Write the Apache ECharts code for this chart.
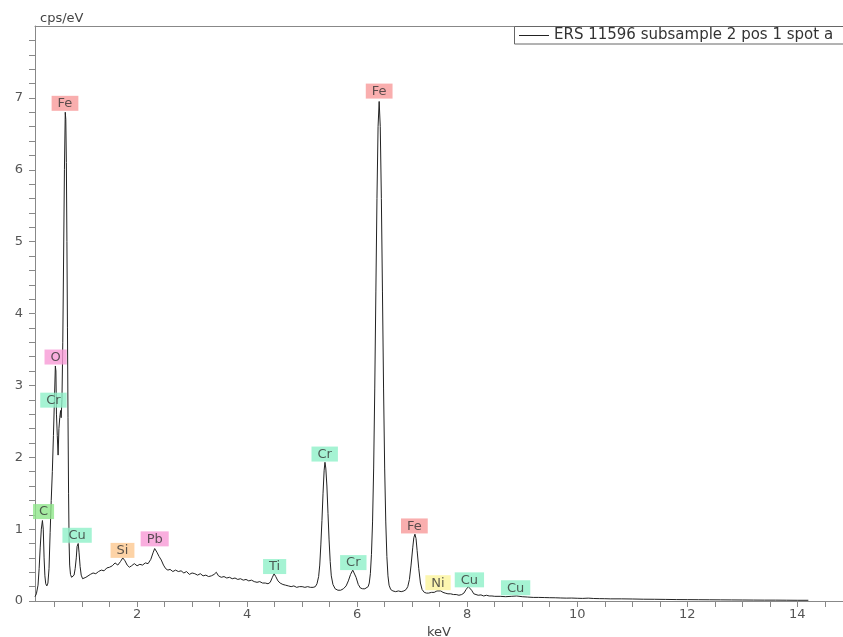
<!DOCTYPE html>
<html>
<head>
<meta charset="utf-8">
<title>ERS 11596 spectrum</title>
<script src="https://cdn.jsdelivr.net/npm/echarts@6.0.0/dist/echarts.min.js"></script>
<style>
html, body { margin: 0; padding: 0; background: #fff; }
#main { width: 843px; height: 637px; }
</style>
</head>
<body>
<div id="main"></div>
<script>
// spectrum: energy (keV) and counts (cps/eV)
var energyKeV = [
	0.145, 0.17, 0.20, 0.22, 0.24, 0.26, 0.28, 0.295, 0.31, 0.325,
	0.34, 0.36, 0.38, 0.40, 0.42, 0.44, 0.46, 0.48, 0.50, 0.515,
	0.525, 0.535, 0.55, 0.565, 0.58, 0.595, 0.61, 0.62, 0.635, 0.65,
	0.665, 0.68, 0.695, 0.705, 0.715, 0.725, 0.735, 0.745, 0.755, 0.765,
	0.775, 0.79, 0.81, 0.83, 0.855, 0.875, 0.895, 0.91, 0.93, 0.945,
	0.965, 0.985, 1.01, 1.04, 1.07, 1.10, 1.15, 1.20, 1.25, 1.30,
	1.35, 1.40, 1.45, 1.50, 1.55, 1.60, 1.65, 1.70, 1.74, 1.78,
	1.82, 1.86, 1.90, 1.95, 2.00, 2.05, 2.10, 2.15, 2.20, 2.25,
	2.29, 2.32, 2.36, 2.40, 2.44, 2.48, 2.52, 2.56, 2.60, 2.65,
	2.70, 2.75, 2.80, 2.85, 2.90, 2.95, 3.00, 3.05, 3.10, 3.15,
	3.20, 3.25, 3.30, 3.35, 3.40, 3.44, 3.48, 3.53, 3.58, 3.63,
	3.68, 3.73, 3.78, 3.83, 3.88, 3.93, 3.98, 4.03, 4.08, 4.13,
	4.18, 4.23, 4.28, 4.33, 4.38, 4.42, 4.46, 4.49, 4.52, 4.56,
	4.60, 4.65, 4.70, 4.75, 4.80, 4.85, 4.90, 4.95, 5.00, 5.05,
	5.10, 5.15, 5.20, 5.24, 5.27, 5.30, 5.32, 5.34, 5.36, 5.38,
	5.40, 5.415, 5.43, 5.45, 5.47, 5.49, 5.51, 5.53, 5.56, 5.60,
	5.65, 5.70, 5.75, 5.80, 5.84, 5.88, 5.92, 5.95, 5.98, 6.02,
	6.06, 6.10, 6.14, 6.17, 6.20, 6.22, 6.24, 6.26, 6.28, 6.30,
	6.32, 6.34, 6.36, 6.38, 6.40, 6.42, 6.44, 6.46, 6.48, 6.50,
	6.52, 6.54, 6.56, 6.58, 6.61, 6.65, 6.70, 6.75, 6.80, 6.85,
	6.89, 6.92, 6.95, 6.98, 7.01, 7.03, 7.05, 7.07, 7.09, 7.12,
	7.15, 7.18, 7.22, 7.26, 7.30, 7.35, 7.40, 7.45, 7.48, 7.52,
	7.56, 7.60, 7.65, 7.70, 7.75, 7.80, 7.85, 7.90, 7.94, 7.98,
	8.02, 8.05, 8.08, 8.12, 8.16, 8.20, 8.25, 8.30, 8.35, 8.40,
	8.45, 8.50, 8.60, 8.70, 8.80, 8.90, 9.00, 9.10, 9.20, 9.30,
	9.40, 9.50, 9.60, 9.70, 9.80, 9.90, 10.0, 10.1, 10.2, 10.3,
	10.4, 10.5, 10.6, 10.8, 11.0, 11.2, 11.4, 11.6, 11.8, 12.0,
	12.2, 12.4, 12.6, 12.8, 13.0, 13.2, 13.4, 13.6, 13.8, 14.0,
	14.2
];
var cps = [
	0.06, 0.10, 0.22, 0.45, 0.75, 1.00, 1.12, 1.00, 0.60, 0.35,
	0.24, 0.21, 0.25, 0.45, 0.95, 1.40, 1.80, 2.30, 2.85, 3.27,
	3.20, 2.60, 2.30, 2.03, 2.40, 2.55, 2.65, 2.55, 2.80, 3.60,
	4.80, 6.00, 6.80, 6.70, 6.10, 5.00, 3.80, 2.55, 1.50, 0.80,
	0.50, 0.37, 0.33, 0.34, 0.36, 0.45, 0.60, 0.76, 0.80, 0.68,
	0.48, 0.36, 0.31, 0.30, 0.33, 0.35, 0.37, 0.39, 0.38, 0.41,
	0.43, 0.42, 0.46, 0.47, 0.49, 0.53, 0.50, 0.55, 0.60, 0.56,
	0.50, 0.47, 0.49, 0.52, 0.49, 0.51, 0.50, 0.53, 0.52, 0.58,
	0.67, 0.73, 0.68, 0.62, 0.57, 0.50, 0.45, 0.43, 0.44, 0.41,
	0.43, 0.41, 0.42, 0.39, 0.41, 0.37, 0.39, 0.38, 0.36, 0.38,
	0.35, 0.36, 0.34, 0.35, 0.37, 0.40, 0.35, 0.33, 0.34, 0.32,
	0.33, 0.31, 0.32, 0.30, 0.31, 0.29, 0.30, 0.28, 0.29, 0.27,
	0.26, 0.27, 0.25, 0.25, 0.24, 0.26, 0.33, 0.38, 0.34, 0.28,
	0.25, 0.23, 0.22, 0.21, 0.20, 0.21, 0.19, 0.20, 0.20, 0.19,
	0.20, 0.19, 0.19, 0.20, 0.24, 0.34, 0.50, 0.78, 1.12, 1.50,
	1.82, 1.93, 1.85, 1.60, 1.22, 0.85, 0.55, 0.35, 0.23, 0.17,
	0.15, 0.15, 0.17, 0.21, 0.28, 0.37, 0.43, 0.41, 0.33, 0.23,
	0.18, 0.17, 0.17, 0.18, 0.20, 0.25, 0.38, 0.65, 1.10, 1.85,
	2.95, 4.30, 5.60, 6.60, 6.95, 6.60, 5.60, 4.30, 2.95, 1.85,
	1.10, 0.62, 0.35, 0.22, 0.16, 0.14, 0.13, 0.14, 0.13, 0.14,
	0.16, 0.20, 0.30, 0.50, 0.74, 0.88, 0.93, 0.87, 0.70, 0.45,
	0.25, 0.16, 0.12, 0.11, 0.11, 0.12, 0.12, 0.14, 0.13, 0.14,
	0.12, 0.11, 0.10, 0.10, 0.09, 0.09, 0.08, 0.09, 0.11, 0.16,
	0.20, 0.19, 0.15, 0.10, 0.09, 0.08, 0.085, 0.07, 0.08, 0.07,
	0.07, 0.065, 0.065, 0.06, 0.065, 0.07, 0.06, 0.055, 0.05, 0.05,
	0.048, 0.046, 0.045, 0.042, 0.04, 0.041, 0.038, 0.036, 0.04, 0.035,
	0.033, 0.032, 0.03, 0.03, 0.028, 0.025, 0.024, 0.022, 0.02, 0.019,
	0.018, 0.017, 0.016, 0.015, 0.014, 0.013, 0.012, 0.012, 0.011, 0.01,
	0.01
];

// element tags: name, where the tag sits (keV, cps/eV), tag colour
var peakNames = ['C', 'O', 'Cr', 'Fe', 'Cu', 'Si', 'Pb', 'Ti', 'Cr', 'Cr', 'Fe', 'Fe', 'Ni', 'Cu', 'Cu'];
var peakKeV = [0.30, 0.52, 0.48, 0.69, 0.91, 1.735, 2.32, 4.50, 5.41, 5.93, 6.40, 7.04, 7.47, 8.04, 8.88];
var peakTop = [1.14, 3.29, 2.69, 6.82, 0.81, 0.60, 0.76, 0.375, 1.94, 0.43, 6.99, 0.94, 0.15, 0.19, 0.08];
var peakColors = ['#8ee68a', '#f79ad6', '#8ff0c8', '#f79a9a', '#8ff0c8', '#fdc890', '#f79ad6', '#8ff0c8',
	'#8ff0c8', '#8ff0c8', '#f79a9a', '#f79a9a', '#fbf49b', '#8ff0c8', '#8ff0c8'];

var xTickLabels = [2, 4, 6, 8, 10, 12, 14];
var yTickLabels = [0, 1, 2, 3, 4, 5, 6, 7];
var seriesName = 'ERS 11596 subsample 2 pos 1 spot a';

var xMin = 0.145, xMax = 14.83;

// minor ticks every 0.5 keV and every 0.2 cps/eV
var xTicks = [];
for (var t = 1; t <= 29; t++) xTicks.push(t * 0.5);
var yTicks = [];
for (var k = 0; k <= 39; k++) yTicks.push(+(k * 0.2).toFixed(1));

var spectrum = energyKeV.map(function (e, i) { return [e, cps[i]]; });
var peakData = peakNames.map(function (n, i) {
	return { name: n, value: [peakKeV[i], peakTop[i]], label: { backgroundColor: peakColors[i] } };
});

var myChart = echarts.init(document.getElementById('main'));

var axisGrey = '#888';
var font = 'DejaVu Sans';

var option = {
	animation: false,
	textStyle: { fontFamily: font },
	grid: { left: 35, right: 0, top: 26, bottom: 36, outerBoundsMode: 'none', containLabel: false },
	// legend frame runs off the right edge like in the original
	graphic: [{
		type: 'rect',
		z: 3,
		shape: { x: 514.5, y: 26.5, width: 400, height: 17.5 },
		style: { fill: '#fff', stroke: '#666', lineWidth: 1 }
	}],
	legend: {
		data: [seriesName],
		left: 514,
		top: 26,
		z: 4,
		padding: [2, 5],
		icon: 'rect',
		itemWidth: 30,
		itemHeight: 1,
		textStyle: { fontSize: 15, color: '#333', fontFamily: font, lineHeight: 14 }
	},
	xAxis: [{
		type: 'value',
		min: xMin,
		max: xMax,
		name: 'keV',
		nameLocation: 'middle',
		nameGap: 23,
		nameTextStyle: { fontSize: 13, color: '#444', fontFamily: font },
		axisLine: { show: true, lineStyle: { color: axisGrey } },
		axisTick: { show: true, customValues: xTicks, length: 6, lineStyle: { color: axisGrey } },
		axisLabel: { customValues: xTickLabels, fontSize: 13, color: '#555', margin: 7, fontFamily: font },
		splitLine: { show: false }
	}, {
		// top frame line
		type: 'value',
		position: 'top',
		min: xMin,
		max: xMax,
		axisLine: { show: true, lineStyle: { color: axisGrey } },
		axisTick: { show: false },
		axisLabel: { show: false },
		splitLine: { show: false }
	}],
	yAxis: {
		type: 'value',
		min: 0,
		max: 8,
		name: 'cps/eV',
		nameLocation: 'end',
		nameGap: 1,
		nameTextStyle: { fontSize: 13, color: '#444', align: 'left', padding: [0, 0, 0, 5], fontFamily: font },
		axisLine: { show: true, lineStyle: { color: axisGrey } },
		axisTick: { show: true, customValues: yTicks, length: 6, lineStyle: { color: axisGrey } },
		axisLabel: { customValues: yTickLabels, fontSize: 13, color: '#555', margin: 12, fontFamily: font },
		splitLine: { show: false }
	},
	series: [{
		name: seriesName,
		type: 'line',
		data: spectrum,
		symbol: 'none',
		lineStyle: { color: '#222', width: 1 },
		itemStyle: { color: '#222' },
		z: 2
	}, {
		name: 'tags',
		type: 'scatter',
		data: peakData,
		symbolSize: 0,
		silent: true,
		z: 5,
		label: {
			show: true,
			position: 'top',
			distance: 0,
			formatter: '{b}',
			fontSize: 13,
			color: '#333',
			fontFamily: font,
			lineHeight: 14,
			padding: [1, 6, 0, 6]
		}
	}]
};

myChart.setOption(option);
</script>
</body>
</html>
